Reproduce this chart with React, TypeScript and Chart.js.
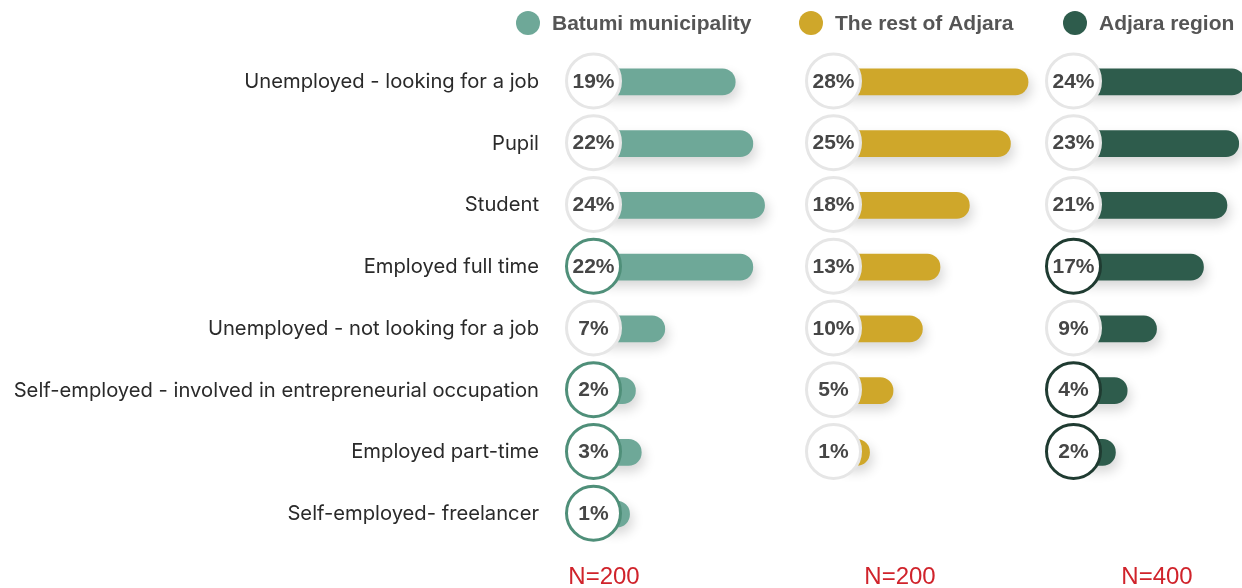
import React, { useEffect, useRef } from 'react';
import { Chart, registerables } from 'chart.js';

Chart.register(...registerables);

const CATEGORIES = [
  'Unemployed - looking for a job',
  'Pupil',
  'Student',
  'Employed full time',
  'Unemployed - not looking for a job',
  'Self-employed - involved in entrepreneurial occupation',
  'Employed part-time',
  'Self-employed- freelancer',
];

const SERIES_NAMES = ['Batumi municipality', 'The rest of Adjara', 'Adjara region'];

const BATUMI_VALUES = [19, 22, 24, 22, 7, 2, 3, 1];
const REST_VALUES = [28, 25, 18, 13, 10, 5, 1, null];
const ADJARA_VALUES = [24, 23, 21, 17, 9, 4, 2, null];

const BATUMI_HIGHLIGHT = [false, false, false, true, false, true, true, true];
const REST_HIGHLIGHT = [false, false, false, false, false, false, false, false];
const ADJARA_HIGHLIGHT = [false, false, false, true, false, true, true, false];

const SAMPLE_LABELS = ['N=200', 'N=200', 'N=400'];

// styles / layout
const BAR_COLORS = ['#6ea898', '#cfa72a', '#2e5c4c'];
const RING_COLORS = ['#4f8f79', '#b38d1c', '#1f3b31'];
const PANEL_WIDTHS = [240, 240, 197];
const PX_PER_PCT = 5.87;
const AXIS_MIN = -10;
const LEGEND_X = [528, 811, 1075];
const SAMPLE_X = [39, 95, 112];
const FONT = '"Liberation Sans", Arial, sans-serif';
const LABEL_FONT = 'Inter, "Liberation Sans", Arial, sans-serif';

const SERIES_VALUES = [BATUMI_VALUES, REST_VALUES, ADJARA_VALUES];
const SERIES_HIGHLIGHT = [BATUMI_HIGHLIGHT, REST_HIGHLIGHT, ADJARA_HIGHLIGHT];

const decorPlugin = {
  id: 'decor',
  beforeDatasetsDraw(chart: any) {
    const ctx = chart.ctx;
    ctx.save();
    ctx.shadowColor = 'rgba(0,0,0,0.16)';
    ctx.shadowBlur = 12;
    ctx.shadowOffsetX = 3;
    ctx.shadowOffsetY = 6;
  },
  afterDatasetsDraw(chart: any) {
    const ctx = chart.ctx;
    ctx.restore();
    chart.data.datasets.forEach((ds: any, di: number) => {
      const meta = chart.getDatasetMeta(di);
      const xs = chart.scales[ds.xAxisID];
      const cx = xs.left + 28.5;
      meta.data.forEach((bar: any, i: number) => {
        const v = ds.data[i];
        if (v == null) return;
        const cy = bar.y - 1;
        ctx.save();
        ctx.beginPath();
        ctx.arc(cx, cy, 27, 0, Math.PI * 2);
        ctx.fillStyle = '#ffffff';
        ctx.fill();
        ctx.lineWidth = 3;
        ctx.strokeStyle = SERIES_HIGHLIGHT[di][i] ? RING_COLORS[di] : '#e6e6e6';
        ctx.stroke();
        ctx.fillStyle = '#464646';
        ctx.font = `bold 21px ${FONT}`;
        ctx.textAlign = 'center';
        ctx.textBaseline = 'middle';
        ctx.fillText(`${v}%`, cx, cy + 1);
        ctx.restore();
      });
    });
  },
  afterDraw(chart: any) {
    const ctx = chart.ctx;
    ctx.save();
    // legend
    chart.data.datasets.forEach((ds: any, di: number) => {
      const x = LEGEND_X[di];
      const y = 23;
      ctx.beginPath();
      ctx.arc(x, y, 12, 0, Math.PI * 2);
      ctx.fillStyle = ds.backgroundColor;
      ctx.fill();
      ctx.fillStyle = '#555555';
      ctx.font = `bold 21px ${FONT}`;
      ctx.textAlign = 'left';
      ctx.textBaseline = 'middle';
      ctx.fillText(ds.label, x + 24, y + 1);
    });
    // sample sizes
    ['x0', 'x1', 'x2'].forEach((id, k) => {
      const xs = chart.scales[id];
      ctx.fillStyle = '#d0232b';
      ctx.font = `24px ${FONT}`;
      ctx.textAlign = 'center';
      ctx.textBaseline = 'middle';
      ctx.fillText(SAMPLE_LABELS[k], xs.left + SAMPLE_X[k], 577);
    });
    ctx.restore();
  },
};

export default function App() {
  const ref = useRef<HTMLCanvasElement>(null);

  useEffect(() => {
    if (!ref.current) return;
    const xScale = (k: number) => ({
      type: 'linear',
      position: 'bottom',
      stack: 'panels',
      stackWeight: PANEL_WIDTHS[k],
      min: AXIS_MIN,
      max: AXIS_MIN + PANEL_WIDTHS[k] / PX_PER_PCT,
      display: false,
    });
    const chart = new Chart(ref.current, {
      type: 'bar',
      data: {
        labels: CATEGORIES,
        datasets: SERIES_VALUES.map((vals, k) => ({
          label: SERIES_NAMES[k],
          data: vals,
          xAxisID: `x${k}`,
          yAxisID: 'y',
          backgroundColor: BAR_COLORS[k],
          borderWidth: 0,
          borderRadius: 13,
          borderSkipped: false,
          barThickness: 26,
          grouped: false,
          base: -5,
          clip: false,
        })),
      } as any,
      options: {
        indexAxis: 'y',
        animation: false,
        responsive: false,
        events: [],
        layout: { padding: { top: 51, bottom: 43, left: 0, right: 0 } },
        plugins: { legend: { display: false }, tooltip: { enabled: false } },
        scales: {
          x0: xScale(0),
          x1: xScale(1),
          x2: xScale(2),
          y: {
            type: 'category',
            position: 'left',
            grid: { display: false, drawTicks: false },
            border: { display: false },
            ticks: {
              autoSkip: false,
              padding: 26,
              color: '#2a2a2a',
              font: { family: LABEL_FONT, size: 20.2 },
            },
            afterFit: (scale: any) => {
              scale.width = 565;
            },
          },
        } as any,
      },
      plugins: [decorPlugin],
    } as any);
    return () => chart.destroy();
  }, []);

  return (
    <div style={{ position: 'absolute', left: 0, top: 0, width: 1242, height: 588, background: '#fff' }}>
      <canvas ref={ref} width={1242} height={588} style={{ display: 'block' }} />
    </div>
  );
}
